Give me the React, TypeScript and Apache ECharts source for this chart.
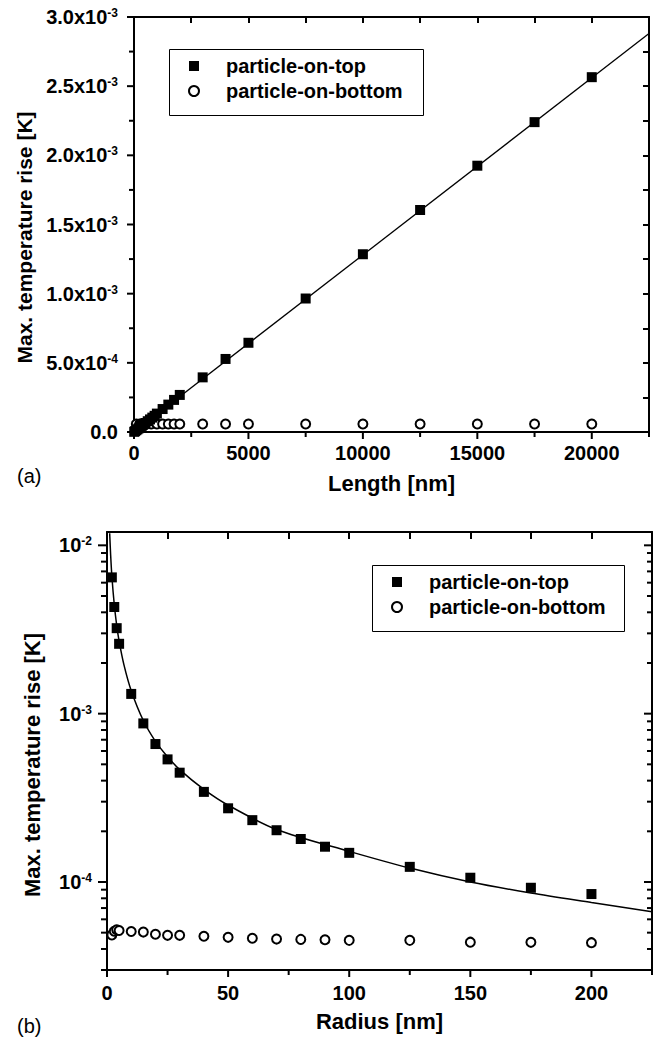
import React, { useEffect, useRef } from "react";
import * as echarts from "echarts";

// ---------- Panel (a): temperature rise vs. length ----------
const LENGTH_ON_TOP = [10, 50, 100, 150, 200, 250, 300, 350, 400, 450, 500, 600, 700, 800, 900, 1000, 1250, 1500, 1750, 2000, 3000, 4000, 5000, 7500, 10000, 12500, 15000, 17500, 20000];
const RISE_ON_TOP_A = [1.4e-6, 6.5e-6, 1.3e-5, 1.95e-5, 2.6e-5, 3.3e-5, 3.9e-5, 4.6e-5, 5.2e-5, 5.9e-5, 6.5e-5, 7.8e-5, 9.1e-5, 1.04e-4, 1.17e-4, 1.33e-4, 1.66e-4, 1.98e-4, 2.32e-4, 2.68e-4, 3.95e-4, 5.28e-4, 6.45e-4, 9.65e-4, 1.285e-3, 1.605e-3, 1.925e-3, 2.24e-3, 2.565e-3];
const LENGTH_ON_BOTTOM = [100, 250, 500, 750, 1000, 1250, 1500, 1750, 2000, 3000, 4000, 5000, 7500, 10000, 12500, 15000, 17500, 20000];
const RISE_ON_BOTTOM_A = [5.8e-5, 5.8e-5, 5.8e-5, 5.8e-5, 5.8e-5, 5.8e-5, 5.8e-5, 5.8e-5, 5.8e-5, 5.8e-5, 5.8e-5, 5.8e-5, 5.8e-5, 5.8e-5, 5.8e-5, 5.8e-5, 5.8e-5, 5.8e-5];
const FIT_A_LENGTH = [0, 22500];
const FIT_A_RISE = [0, 2.88e-3];

// ---------- Panel (b): temperature rise vs. radius ----------
const RADIUS_ON_TOP = [2, 3, 4, 5, 10, 15, 20, 25, 30, 40, 50, 60, 70, 80, 90, 100, 125, 150, 175, 200];
const RISE_ON_TOP_B = [6.45e-3, 4.3e-3, 3.22e-3, 2.6e-3, 1.31e-3, 8.75e-4, 6.6e-4, 5.35e-4, 4.46e-4, 3.43e-4, 2.74e-4, 2.33e-4, 2.03e-4, 1.8e-4, 1.62e-4, 1.49e-4, 1.23e-4, 1.06e-4, 9.24e-5, 8.48e-5];
const RADIUS_ON_BOTTOM = [2, 3, 4, 5, 10, 15, 20, 25, 30, 40, 50, 60, 70, 80, 90, 100, 125, 150, 175, 200];
const RISE_ON_BOTTOM_B = [4.85e-5, 5.1e-5, 5.2e-5, 5.15e-5, 5.08e-5, 5.04e-5, 4.89e-5, 4.82e-5, 4.82e-5, 4.76e-5, 4.69e-5, 4.63e-5, 4.58e-5, 4.56e-5, 4.54e-5, 4.5e-5, 4.5e-5, 4.39e-5, 4.38e-5, 4.36e-5];
const FIT_B_RADIUS = [1.1, 1.5, 2, 3, 4, 5, 7, 10, 15, 20, 25, 30, 40, 50, 70, 100, 125, 150, 175, 200, 225];
const FIT_B_RISE = [1.18e-2, 8.8e-3, 6.6e-3, 4.45e-3, 3.35e-3, 2.7e-3, 1.95e-3, 1.37e-3, 9.1e-4, 6.85e-4, 5.55e-4, 4.65e-4, 3.55e-4, 2.86e-4, 2.05e-4, 1.52e-4, 1.21e-4, 1.0e-4, 8.6e-5, 7.55e-5, 6.65e-5];

// ---------- tick values ----------
const X1_MAJOR_TICKS = [0, 5000, 10000, 15000, 20000];
const X1_MINOR_TICKS = [2500, 7500, 12500, 17500, 22500];
const Y1_MAJOR_TICKS = [0, 5e-4, 1e-3, 1.5e-3, 2e-3, 2.5e-3, 3e-3];
const Y1_MINOR_TICKS = [2.5e-4, 7.5e-4, 1.25e-3, 1.75e-3, 2.25e-3, 2.75e-3];
const X2_MAJOR_TICKS = [0, 50, 100, 150, 200];
const X2_MINOR_TICKS = [25, 75, 125, 175, 225];
const Y2_MAJOR_TICKS = [1e-4, 1e-3, 1e-2];
const Y2_MINOR_TICKS = [3e-5, 4e-5, 5e-5, 6e-5, 7e-5, 8e-5, 9e-5, 2e-4, 3e-4, 4e-4, 5e-4, 6e-4, 7e-4, 8e-4, 9e-4, 2e-3, 3e-3, 4e-3, 5e-3, 6e-3, 7e-3, 8e-3, 9e-3];

const SERIES_TOP = "particle-on-top";
const SERIES_BOTTOM = "particle-on-bottom";

const FONT = "'Liberation Sans', Arial, Helvetica, sans-serif";
const TICK_COLOR = "#000";

function zip(xs: number[], ys: number[]) {
  return xs.map((x, i) => [x, ys[i]]);
}

function sciLabel(v: number) {
  if (Math.abs(v) < 1e-12) return "{a|0.0}";
  const e = Math.floor(Math.log10(v) + 1e-9);
  const m = v / Math.pow(10, e);
  return `{a|${m.toFixed(1)}x10}{b|${e}}`;
}

function logLabel(v: number) {
  const e = Math.round(Math.log10(v));
  return `{a|10}{b|${e}}`;
}

const richSci = {
  a: { fontSize: 20, fontWeight: "bold", fontFamily: FONT, color: "#000", lineHeight: 20 },
  b: { fontSize: 12, fontWeight: "bold", fontFamily: FONT, color: "#000", lineHeight: 10, verticalAlign: "top" },
};

const lineStyleAxis = { color: "#000", width: 2 };
const titleStyle = { fontSize: 22, fontWeight: "bold", color: "#000", fontFamily: FONT };

export default function App() {
  const ref = useRef<HTMLDivElement>(null);

  useEffect(() => {
    document.body.style.margin = "0";
    if (!ref.current) return;
    const chart = echarts.init(ref.current, null, { renderer: "svg" });

    const X1_MAX = 22500;
    const X2_MAX = 225;
    const Y2_MIN = 3.0e-5;
    const Y2_MAX = 1.2e-2;

    const baseGraphic: any[] = [
      { type: "rect", left: 167, top: 47, shape: { width: 254, height: 66 }, style: { fill: "none", stroke: "#000", lineWidth: 1 }, silent: true },
      { type: "rect", left: 370, top: 563, shape: { width: 252, height: 66 }, style: { fill: "none", stroke: "#000", lineWidth: 1 }, silent: true },
      { type: "text", left: 17, top: 466, style: { text: "(a)", fontSize: 20, fontFamily: FONT, fill: "#000" } },
      { type: "text", left: 17, top: 1016, style: { text: "(b)", fontSize: 20, fontFamily: FONT, fill: "#000" } },
    ];

    const option: any = {
      animation: false,
      backgroundColor: "#fff",
      textStyle: { fontFamily: FONT },
      grid: [
        { left: 134, top: 17, width: 515, height: 415 },
        { left: 107, top: 532, width: 545, height: 438 },
      ],
      xAxis: [
        {
          type: "value", gridIndex: 0, position: "bottom", min: 0, max: X1_MAX, interval: 5000,
          name: "Length [nm]", nameLocation: "middle", nameGap: 40, nameTextStyle: titleStyle,
          axisLine: { show: true, onZero: false, lineStyle: lineStyleAxis },
          axisTick: { show: false },
          axisLabel: { showMaxLabel: false, margin: 11, fontSize: 20, fontWeight: "bold", color: "#000", fontFamily: FONT, formatter: (v: number) => String(v) },
          splitLine: { show: false },
        },
        {
          type: "value", gridIndex: 0, position: "top", min: 0, max: X1_MAX, interval: 2500,
          axisLine: { show: true, onZero: false, lineStyle: lineStyleAxis },
          axisTick: { show: true, inside: true, length: 6, lineStyle: { color: "#000", width: 2 } },
          axisLabel: { show: false }, splitLine: { show: false },
        },
        {
          type: "value", gridIndex: 1, position: "bottom", min: 0, max: X2_MAX, interval: 50,
          name: "Radius [nm]", nameLocation: "middle", nameGap: 40, nameTextStyle: titleStyle,
          axisLine: { show: true, onZero: false, lineStyle: lineStyleAxis },
          axisTick: { show: false },
          axisLabel: { showMaxLabel: false, margin: 13, fontSize: 20, fontWeight: "bold", color: "#000", fontFamily: FONT, formatter: (v: number) => String(v) },
          splitLine: { show: false },
        },
        {
          type: "value", gridIndex: 1, position: "top", min: 0, max: X2_MAX, interval: 25,
          axisLine: { show: true, onZero: false, lineStyle: lineStyleAxis },
          axisTick: { show: true, inside: true, length: 7, lineStyle: { color: "#000", width: 2 } },
          axisLabel: { show: false }, splitLine: { show: false },
        },
      ],
      yAxis: [
        {
          type: "value", gridIndex: 0, position: "left", min: 0, max: 3.0e-3, interval: 5e-4,
          name: "Max. temperature rise [K]", nameLocation: "middle", nameGap: 98,
          nameTextStyle: { ...titleStyle, fontSize: 21, padding: [0, 26, 0, 0] },
          axisLine: { show: true, onZero: false, lineStyle: lineStyleAxis },
          axisTick: { show: false },
          axisLabel: { margin: 16, formatter: sciLabel, rich: richSci },
          splitLine: { show: false },
        },
        {
          type: "value", gridIndex: 0, position: "right", min: 0, max: 3.0e-3, interval: 2.5e-4,
          axisLine: { show: true, onZero: false, lineStyle: lineStyleAxis },
          axisTick: { show: true, inside: true, length: 6, lineStyle: { color: "#000", width: 2 } },
          axisLabel: { show: false }, splitLine: { show: false },
        },
        {
          type: "log", logBase: 10, gridIndex: 1, position: "left", min: Y2_MIN, max: Y2_MAX,
          name: "Max. temperature rise [K]", nameLocation: "middle", nameGap: 64,
          nameTextStyle: { ...titleStyle, padding: [0, 28, 0, 0] },
          axisLine: { show: true, onZero: false, lineStyle: lineStyleAxis },
          axisTick: { show: false },
          axisLabel: { showMinLabel: false, showMaxLabel: false, margin: 15, formatter: logLabel, rich: richSci },
          splitLine: { show: false },
        },
        {
          type: "log", logBase: 10, gridIndex: 1, position: "right", min: Y2_MIN, max: Y2_MAX,
          axisLine: { show: true, onZero: false, lineStyle: lineStyleAxis },
          axisTick: { show: false },
          axisLabel: { show: false }, splitLine: { show: false },
        },
      ],
      legend: [
        {
          orient: "vertical", left: 188, top: 53.5, padding: 0, itemGap: 0,
          itemWidth: 10, itemHeight: 10, selectedMode: false,
          textStyle: { fontSize: 20, fontWeight: "bold", color: "#000", fontFamily: FONT, lineHeight: 25, padding: [0, 0, 0, 22] },
          data: [SERIES_TOP, SERIES_BOTTOM],
        },
        {
          orient: "vertical", left: 391, top: 569.5, padding: 0, itemGap: 0,
          itemWidth: 10, itemHeight: 10, selectedMode: false,
          textStyle: { fontSize: 20, fontWeight: "bold", color: "#000", fontFamily: FONT, lineHeight: 25, padding: [0, 0, 0, 22] },
          data: [SERIES_TOP, SERIES_BOTTOM],
        },
      ],
      graphic: baseGraphic,
      series: [
        {
          type: "line", name: "fit-a", xAxisIndex: 0, yAxisIndex: 0, data: zip(FIT_A_LENGTH, FIT_A_RISE),
          symbol: "none", lineStyle: { color: "#000", width: 1.3 }, z: 2,
        },
        {
          type: "scatter", name: SERIES_BOTTOM, xAxisIndex: 0, yAxisIndex: 0, data: zip(LENGTH_ON_BOTTOM, RISE_ON_BOTTOM_A),
          symbol: "circle", symbolSize: 9, itemStyle: { color: "#fff", borderColor: "#000", borderWidth: 2, opacity: 1 }, z: 3,
        },
        {
          type: "scatter", name: SERIES_TOP, xAxisIndex: 0, yAxisIndex: 0, data: zip(LENGTH_ON_TOP, RISE_ON_TOP_A),
          symbol: "rect", symbolSize: 10, itemStyle: { color: "#000", opacity: 1 }, z: 4,
        },
        {
          type: "line", name: "fit-b", xAxisIndex: 2, yAxisIndex: 2, data: zip(FIT_B_RADIUS, FIT_B_RISE),
          symbol: "none", smooth: 0.3, lineStyle: { color: "#000", width: 1.5 }, z: 2,
        },
        {
          type: "scatter", name: SERIES_BOTTOM, xAxisIndex: 2, yAxisIndex: 2, data: zip(RADIUS_ON_BOTTOM, RISE_ON_BOTTOM_B),
          symbol: "circle", symbolSize: 9, itemStyle: { color: "#fff", borderColor: "#000", borderWidth: 2, opacity: 1 }, z: 3,
        },
        {
          type: "scatter", name: SERIES_TOP, xAxisIndex: 2, yAxisIndex: 2, data: zip(RADIUS_ON_TOP, RISE_ON_TOP_B),
          symbol: "rect", symbolSize: 10, itemStyle: { color: "#000", opacity: 1 }, z: 4,
        },
      ],
    };

    chart.setOption(option);

    // Tick marks positioned with the axes' own scales (convertToPixel)
    const ticks: any[] = [];
    const seg = (x1: number, y1: number, x2: number, y2: number, w: number) =>
      ticks.push({ type: "line", silent: true, z: 50, shape: { x1, y1, x2, y2 }, style: { stroke: TICK_COLOR, lineWidth: w } });
    const px = (xi: number, yi: number, pt: number[]) =>
      chart.convertToPixel({ xAxisIndex: xi, yAxisIndex: yi } as any, pt) as number[];

    X1_MAJOR_TICKS.forEach((v) => { const p = px(0, 0, [v, 0]); seg(p[0], p[1], p[0], p[1] + 7, 2); });
    X1_MINOR_TICKS.forEach((v) => { const p = px(0, 0, [v, 0]); seg(p[0], p[1], p[0], p[1] + 5, 2); });
    Y1_MAJOR_TICKS.forEach((v) => { const p = px(0, 0, [0, v]); seg(p[0] - 7, p[1], p[0], p[1], 2); });
    Y1_MINOR_TICKS.forEach((v) => { const p = px(0, 0, [0, v]); seg(p[0] - 5, p[1], p[0], p[1], 2); });
    X2_MAJOR_TICKS.forEach((v) => { const p = px(2, 2, [v, Y2_MIN]); seg(p[0], p[1], p[0], p[1] + 7, 2); });
    X2_MINOR_TICKS.forEach((v) => { const p = px(2, 2, [v, Y2_MIN]); seg(p[0], p[1], p[0], p[1] + 5, 2); });
    Y2_MAJOR_TICKS.forEach((v) => {
      const p = px(2, 2, [0, v]);
      const q = px(2, 2, [X2_MAX, v]);
      seg(p[0] - 9, p[1], p[0], p[1], 2);
      seg(q[0] - 8, q[1], q[0], q[1], 2);
    });
    Y2_MINOR_TICKS.forEach((v) => {
      const p = px(2, 2, [0, v]);
      const q = px(2, 2, [X2_MAX, v]);
      seg(p[0] - 6, p[1], p[0], p[1], 2);
      seg(q[0] - 5, q[1], q[0], q[1], 2);
    });

    chart.setOption({ graphic: [...baseGraphic, ...ticks] });

    return () => chart.dispose();
  }, []);

  return <div ref={ref} style={{ width: 661, height: 1044 }} />;
}
